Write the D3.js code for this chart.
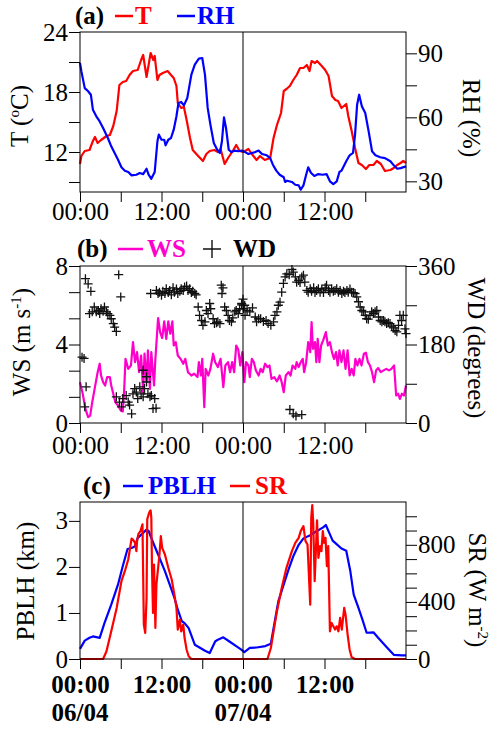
<!DOCTYPE html>
<html>
<head>
<meta charset="utf-8">
<script src="https://cdn.jsdelivr.net/npm/d3@7"></script>
<style>
  body { margin: 0; background: #fff; }
  svg text { font-family: "Liberation Serif", "Times New Roman", serif; }
</style>
</head>
<body>
<svg id="chart" width="500" height="730"></svg>
<script>
  'use strict';

  // time axis: hours since 00:00 06/04
  var hourTicks = [0, 6, 12, 18, 24, 30, 36, 42];
  var timeLabels = ['00:00', '12:00', '00:00', '12:00'];
  var dateLabels = ['06/04', '07/04'];

  // (a) temperature (oC) and relative humidity (%)
  var tempT = [[0,10.8],[0.2,11.6],[0.7,12.1],[1.4,12.2],[1.9,13.1],[2.2,13.5],[2.6,12.9],[3.1,13.2],[3.9,13.6],[4.4,13.7],[4.9,14.6],[5.4,16.1],[5.8,18.7],[6.3,19.0],[6.8,19.1],[7.3,19.7],[7.8,20.1],[8.5,20.2],[9.0,21.2],[9.3,21.7],[9.8,19.5],[10.1,20.7],[10.4,21.9],[10.8,21.2],[11.0,21.6],[11.4,19.2],[11.7,19.7],[12.2,19.9],[12.9,20.1],[13.4,19.7],[13.8,19.4],[14.2,18.6],[14.4,16.9],[14.9,16.4],[15.3,16.5],[15.7,15.2],[16.2,13.4],[16.6,12.2],[17.4,11.6],[18.1,11.1],[18.6,11.8],[19.1,12.1],[19.8,12.2],[20.3,12.0],[20.7,12.3],[21.3,10.8],[21.8,11.4],[22.5,12.1],[23.0,12.7],[23.5,12.1],[24.0,12.0],
    [24.3,12.1],[24.8,12.3],[25.3,11.8],[26.0,11.2],[26.5,11.6],[27.2,11.2],[28.0,11.4],[28.5,13.4],[29.0,14.7],[29.6,15.9],[30.0,18.1],[30.4,18.3],[30.9,18.6],[31.4,19.2],[31.9,19.7],[32.4,20.4],[32.9,20.4],[33.4,20.7],[33.8,20.1],[34.1,21.1],[34.6,20.9],[34.9,21.1],[35.6,20.6],[36.1,20.2],[36.6,19.6],[37.1,17.6],[37.6,17.2],[38.0,17.1],[38.5,16.4],[39.2,16.8],[39.5,15.6],[40.0,14.1],[40.5,12.4],[41.0,10.9],[41.5,10.7],[42.1,10.3],[42.6,10.7],[43.2,10.7],[43.7,11.1],[44.3,10.8],[44.9,10.1],[45.7,10.2],[46.2,10.4],[46.7,10.7],[47.2,10.9],[47.6,11.1],[48,10.9]];
  var relHum = [[0,85.5],[0.2,81.6],[0.7,73.7],[1.2,72.2],[1.6,70.6],[1.9,63.6],[2.4,60.5],[2.9,58.1],[3.4,55.0],[4.1,50.3],[4.6,46.4],[5.1,43.3],[5.6,40.1],[6.1,36.6],[6.6,35.0],[7.1,34.4],[7.6,32.8],[8.3,33.1],[8.8,33.9],[9.3,33.4],[9.8,35.9],[10.1,33.1],[10.5,31.2],[11.0,34.4],[11.4,48.8],[11.6,51.9],[12.0,49.5],[12.4,49.5],[12.6,46.9],[13.0,49.5],[13.4,50.3],[13.8,54.2],[14.2,60.5],[14.5,66.7],[14.9,67.2],[15.3,65.6],[15.8,69.1],[16.4,80.0],[16.9,84.7],[17.5,87.5],[18.0,87.8],[18.4,80.0],[18.8,64.4],[19.2,56.6],[19.7,48.0],[20.2,44.8],[20.6,43.3],[20.9,48.8],[21.2,60.0],[21.5,55.0],[21.9,44.8],[22.3,43.7],[22.8,44.4],[23.3,44.1],[23.8,44.4],
    [24.3,43.7],[24.8,42.8],[25.3,43.3],[25.8,43.7],[26.3,44.4],[26.8,42.8],[27.5,42.2],[28.0,40.9],[28.4,37.8],[28.9,35.0],[29.4,33.1],[30.0,31.9],[30.2,29.7],[30.5,30.3],[31.2,29.7],[31.7,28.4],[32.2,28.1],[32.5,26.1],[32.9,28.1],[33.3,33.1],[33.6,36.6],[34.0,34.0],[34.5,32.5],[35.1,33.4],[35.7,33.1],[36.3,33.4],[36.8,30.0],[37.3,28.7],[37.8,30.0],[38.2,34.4],[38.5,35.0],[39.2,39.4],[39.7,42.2],[40.2,43.3],[40.5,51.9],[40.8,65.9],[41.1,70.6],[41.5,65.2],[42.0,62.0],[42.5,53.4],[43.0,44.1],[43.5,42.2],[44.2,41.3],[44.9,40.9],[45.7,39.4],[46.2,37.5],[46.7,35.9],[47.2,36.2],[48,37.0]];

  // (b) wind speed (m/s) and wind direction (degrees)
  var windSpeed = [[0,2.08],[0.4,1.49],[0.8,0.72],[1.2,0.30],[1.5,0.38],[1.8,1.06],[2.2,1.83],[2.6,2.59],[2.9,3.02],[3.1,2.42],[3.4,2.08],[3.7,1.91],[4.0,2.34],[4.4,2.34],[4.6,1.91],[4.9,1.49],[5.2,1.06],[5.6,0.89],[6.0,0.64],[6.3,0.59],[6.5,1.66],[6.7,3.27],[7.1,2.76],[7.5,2.93],[7.8,4.12],[8.1,3.10],[8.4,3.61],[8.7,2.59],[9.0,3.44],[9.3,1.57],[9.5,3.53],[9.8,2.08],[10.0,3.70],[10.3,1.74],[10.5,3.61],[10.9,1.91],[11.1,3.27],[11.5,5.35],[11.8,4.63],[12.1,4.33],[12.4,5.18],[12.7,4.29],[13.0,5.18],[13.3,4.55],[13.6,5.18],[13.8,3.95],[14.1,4.12],[14.4,3.44],[14.8,3.27],[15.2,3.02],[15.5,3.27],[15.9,2.59],[16.4,2.42],[16.8,2.51],[17.3,2.34],[17.5,3.10],[17.8,2.42],[18.0,3.27],[18.3,0.81],[18.5,2.76],[18.9,2.42],[19.2,2.76],[19.6,3.53],[19.9,3.10],[20.3,2.85],[20.7,3.27],[21.1,1.83],[21.4,2.93],[21.8,3.10],[22.1,2.59],[22.4,3.10],[22.7,2.59],[23.0,3.95],[23.3,3.75],[23.6,2.93],[23.9,3.61],[24.2,2.08],
    [24.45,3.10],[24.8,2.93],[25.0,2.34],[25.3,3.27],[25.6,3.10],[25.9,2.68],[26.3,2.42],[26.6,2.76],[26.9,2.59],[27.25,3.02],[27.6,2.85],[27.9,2.93],[28.2,2.25],[28.6,2.34],[29.0,2.12],[29.4,2.42],[29.7,2.08],[30.0,1.57],[30.3,2.42],[30.7,2.59],[31.0,2.42],[31.3,2.93],[31.7,2.76],[31.9,3.10],[32.2,2.85],[32.5,3.10],[32.8,3.27],[33.0,2.59],[33.3,3.10],[33.6,4.12],[33.9,3.61],[34.1,5.14],[34.3,3.78],[34.6,4.12],[34.8,3.10],[35.0,4.29],[35.25,3.10],[35.5,3.95],[35.8,4.21],[36.2,4.63],[36.5,3.95],[36.8,4.12],[37.1,3.61],[37.4,3.27],[37.7,3.61],[37.95,2.93],[38.2,3.70],[38.5,3.10],[38.8,3.70],[39.1,2.76],[39.4,3.70],[39.7,2.42],[40.0,2.76],[40.3,2.42],[40.55,3.27],[40.85,2.93],[41.15,3.27],[41.45,2.93],[41.8,3.53],[42.1,3.58],[42.4,3.10],[42.7,2.93],[43.0,2.59],[43.3,2.08],[43.6,2.68],[43.9,2.80],[44.3,2.59],[44.7,2.68],[45.1,2.76],[45.5,2.68],[45.85,2.76],[46.25,2.93],[46.55,1.40],[46.85,1.49],[47.1,1.23],[47.4,1.49],[47.7,1.40],[48,1.91]];
  var windDir = [[0.3,151],[0.6,148],[0.7,37],[0.8,331],[0.9,83],[1.2,319],[1.4,251],[1.6,302],[1.8,255],[2.1,266],[2.4,255],[2.7,258],[2.9,251],[3.1,262],[3.4,256],[3.6,266],[3.9,255],[4.1,251],[4.4,247],[4.6,239],[4.9,228],[5.1,220],[5.35,210],[5.35,60],[5.7,340],[5.8,48],[6.0,289],[6.1,37],[6.3,56],[6.8,63],[7.1,48],[7.3,41],[7.6,21],[7.8,67],[8.05,79],[8.3,71],[8.5,56],[8.8,83],[9.0,67],[9.3,60],[9.3,121],[9.5,79],[9.8,94],[9.8,106],[10.0,67],[10.3,60],[10.4,297],[10.5,63],[10.75,33],[11.0,56],[11.2,34],[11.25,304],[11.5,297],[11.7,300],[12.0,293],[12.2,302],[12.5,297],[12.7,308],[13.0,299],[13.2,304],[13.45,294],[13.7,310],[13.9,300],[14.2,307],[14.4,297],[14.7,302],[14.9,308],[15.2,304],[15.4,312],[15.7,314],[15.9,304],[16.15,308],[16.4,299],[16.6,302],[16.9,297],[17.1,294],[17.4,266],[17.6,247],[17.9,235],[18.1,224],[18.4,232],[18.6,258],[18.85,251],[19.1,274],[19.25,262],[19.6,239],[19.8,228],[20.1,230],[20.3,232],[20.6,228],[20.8,316],[20.9,297],[21.05,310],[21.3,266],[21.55,258],[21.8,247],[22.0,235],[22.3,232],[22.5,241],[22.8,255],[23.0,258],[23.3,251],[23.5,262],[23.8,271],[23.8,274],[24.0,284],[24.1,262],[24.25,270],
    [24.3,247],[24.6,258],[25.0,255],[25.4,264],[25.8,243],[26.0,232],[26.3,239],[26.6,239],[27.0,233],[27.4,235],[27.7,228],[28.1,224],[28.5,232],[28.7,247],[29.0,255],[29.2,270],[29.45,277],[29.7,300],[29.95,320],[30.2,335],[30.45,342],[30.8,340],[30.9,31],[31.2,352],[31.4,346],[31.4,21],[31.7,335],[31.8,16],[31.9,323],[32.2,327],[32.4,322],[32.65,335],[32.65,19],[32.9,339],[33.1,323],[33.4,304],[33.6,300],[33.9,308],[34.1,302],[34.4,310],[34.6,299],[34.85,304],[35.1,308],[35.35,300],[35.6,307],[35.85,299],[36.1,310],[36.3,316],[36.6,304],[36.8,300],[37.05,308],[37.3,302],[37.55,304],[37.8,308],[38.05,300],[38.3,304],[38.55,297],[38.8,302],[39.0,299],[39.3,304],[39.5,300],[39.75,307],[40.0,300],[40.25,299],[40.5,297],[40.75,289],[41.0,278],[41.25,266],[41.5,258],[41.75,255],[42.0,247],[42.2,239],[42.45,238],[42.7,247],[42.95,255],[43.2,251],[43.45,255],[43.7,258],[43.95,243],[44.2,235],[44.45,232],[44.7,235],[44.9,232],[45.15,228],[45.4,230],[45.65,228],[45.9,222],[46.15,218],[46.4,212],[46.65,209],[46.9,224],[47.1,247],[47.35,235],[47.6,247],[47.85,216],[48.0,205]];

  // (c) boundary layer height (km) and solar radiation (W/m2)
  var pblh = [[0,0.22],[0.7,0.40],[1.4,0.46],[1.9,0.49],[2.9,0.46],[3.6,0.78],[4.6,1.18],[5.6,1.62],[6.3,2.02],[7.0,2.39],[7.6,2.41],[8.1,2.45],[8.5,2.63],[9.3,2.74],[9.8,2.81],[10.1,2.78],[10.6,2.59],[11.1,2.41],[11.7,2.20],[12.5,1.91],[13.2,1.62],[13.9,1.33],[14.4,1.07],[15.0,0.82],[15.4,0.78],[16.0,0.67],[16.9,0.31],[17.6,0.25],[18.4,0.18],[19.1,0.13],[19.9,0.38],[20.3,0.42],[21.1,0.47],[22.0,0.38],[23.0,0.28],[23.8,0.20],[24.2,0.15],[25.0,0.24],[26.0,0.25],[27.3,0.28],[28.1,0.33],[28.6,0.75],[29.2,1.25],[30.0,1.62],[30.7,1.94],[31.4,2.23],[32.2,2.48],[32.9,2.62],[33.9,2.69],[34.9,2.78],[35.8,2.86],[36.2,2.91],[36.7,2.74],[37.2,2.57],[37.9,2.48],[38.5,2.40],[39.2,2.35],[39.8,1.91],[40.3,1.40],[41.0,1.11],[41.6,0.85],[42.2,0.57],[43.2,0.58],[43.9,0.46],[45.2,0.25],[46.2,0.09],[47.4,0.08],[48,0.08]];
  var solarRad = [[0,0],[3.4,0],[3.9,54],[4.6,194],[5.4,358],[6.1,545],[6.6,615],[7.1,697],[7.3,756],[7.6,844],[7.8,837],[8.1,814],[8.3,756],[8.4,826],[8.6,877],[8.9,896],[9.2,943],[9.4,241],[9.6,183],[9.8,428],[9.9,978],[10.1,1013],[10.3,1037],[10.4,1041],[10.5,990],[10.6,639],[10.75,323],[10.9,662],[11.1,218],[11.25,521],[11.5,639],[11.7,732],[11.9,861],[12.1,779],[12.5,732],[13.0,639],[13.5,557],[13.9,451],[14.2,358],[14.4,206],[14.7,276],[14.9,194],[15.2,241],[15.4,147],[15.7,65],[16.0,19],[16.4,0],
    [27.6,0],[28.1,77],[28.5,194],[29.0,335],[29.7,498],[30.4,639],[31.2,756],[31.7,814],[32.2,849],[32.5,896],[32.9,931],[33.2,826],[33.5,802],[33.9,381],[34.05,990],[34.2,1079],[34.35,943],[34.55,545],[34.75,779],[34.9,971],[35.1,709],[35.35,791],[35.55,756],[35.75,896],[35.95,814],[36.15,849],[36.35,651],[36.55,791],[36.8,194],[37.05,253],[37.3,229],[37.55,206],[37.8,229],[38.05,194],[38.3,288],[38.55,206],[38.9,358],[39.1,311],[39.4,173],[39.7,65],[40.0,12],[40.5,0],[48,0]];

  var svg = d3.select('#chart');
  var left = 80, right = 406;
  var fontSize = 25;

  var x = d3.scaleLinear().domain([0, 48]).range([left, right]);

  function timeFormat(h) {
    return h % 12 === 0 ? timeLabels[h / 12] : '';
  }

  function styleAxis(g, bold) {
    g.select('.domain').remove();
    g.selectAll('line').attr('stroke', '#000');
    g.selectAll('text')
      .attr('font-size', fontSize)
      .attr('font-family', '"Liberation Serif", "Times New Roman", serif')
      .attr('font-weight', bold ? 'bold' : 'normal')
      .attr('fill', '#000');
  }

  function drawPanel(p) {
    var yL = d3.scaleLinear().domain(p.yLeft).range([p.bottom, p.top]);
    var yR = d3.scaleLinear().domain(p.yRight).range([p.bottom, p.top]);
    var g = svg.append('g');

    // series
    p.series.forEach(function(s) {
      var sc = s.axis === 'right' ? yR : yL;
      if (s.type === 'cross') {
        g.append('g').selectAll('path')
          .data(s.data)
          .enter().append('path')
          .attr('transform', function(d) {
            return 'translate(' + x(d[0]) + ',' + sc(d[1]) + ')';
          })
          .attr('d', 'M-4.5,0H4.5M0,-4.5V4.5')
          .attr('stroke', s.color)
          .attr('stroke-width', 1.3)
          .attr('fill', 'none');
      } else {
        var line = d3.line()
          .x(function(d) { return x(d[0]); })
          .y(function(d) { return sc(d[1]); });
        g.append('path')
          .datum(s.data)
          .attr('d', line)
          .attr('fill', 'none')
          .attr('stroke', s.color)
          .attr('stroke-width', 2.2)
          .attr('stroke-linejoin', 'round');
      }
    });

    // day separator
    g.append('line')
      .attr('x1', x(24)).attr('x2', x(24))
      .attr('y1', p.top).attr('y2', p.bottom)
      .attr('stroke', '#000').attr('stroke-width', 1);

    // frame
    g.append('rect')
      .attr('x', left).attr('y', p.top)
      .attr('width', right - left).attr('height', p.bottom - p.top)
      .attr('fill', 'none').attr('stroke', '#000').attr('stroke-width', 1);

    // axes
    var axL = d3.axisLeft(yL).tickValues(p.leftTicks).tickSize(11).tickSizeOuter(0)
      .tickPadding(1)
      .tickFormat(function(v) { return p.leftLabels.indexOf(v) >= 0 ? v : ''; });
    g.append('g').attr('transform', 'translate(' + left + ',0)').call(axL)
      .call(styleAxis, false);

    var axR = d3.axisRight(yR).tickValues(p.rightTicks).tickSize(11).tickSizeOuter(0)
      .tickPadding(1)
      .tickFormat(function(v) { return p.rightLabels.indexOf(v) >= 0 ? v : ''; });
    g.append('g').attr('transform', 'translate(' + right + ',0)').call(axR)
      .call(styleAxis, false);

    var axB = d3.axisBottom(x).tickValues(hourTicks).tickSize(10).tickSizeOuter(0)
      .tickPadding(p.xPad).tickFormat(timeFormat);
    g.append('g').attr('transform', 'translate(0,' + p.bottom + ')').call(axB)
      .call(styleAxis, p.boldTime);

    // axis titles
    var lt = g.append('text')
      .attr('transform', 'translate(' + p.leftTitle[0] + ',' + p.leftTitle[1] + ') rotate(-90)')
      .attr('text-anchor', 'middle').attr('font-size', fontSize);
    addRich(lt, p.leftTitleParts);
    var rt = g.append('text')
      .attr('transform', 'translate(' + p.rightTitle[0] + ',' + p.rightTitle[1] + ') rotate(90)')
      .attr('text-anchor', 'middle').attr('font-size', fontSize);
    addRich(rt, p.rightTitleParts);

    // panel heading with legend
    p.heading.forEach(function(h) {
      if (h.dash) {
        g.append('line')
          .attr('x1', h.x).attr('x2', h.x + h.dash)
          .attr('y1', p.headY - 8).attr('y2', p.headY - 8)
          .attr('stroke', h.color).attr('stroke-width', 2.5);
      } else if (h.cross) {
        g.append('path')
          .attr('transform', 'translate(' + h.x + ',' + (p.headY - 8) + ')')
          .attr('d', 'M-9,0H9M0,-9V9')
          .attr('stroke', h.color).attr('stroke-width', 1.4);
      } else {
        g.append('text')
          .attr('x', h.x).attr('y', p.headY)
          .attr('font-size', fontSize).attr('font-weight', 'bold')
          .attr('fill', h.color)
          .text(h.text);
      }
    });
  }

  // text with optional superscripts: parts = [[text, isSuper], ...]
  function addRich(t, parts) {
    var raised = false;
    parts.forEach(function(pt) {
      var ts = t.append('tspan').text(pt[0]);
      if (pt[1] && !raised) {
        ts.attr('dy', -9).attr('font-size', 15);
        raised = true;
      } else if (!pt[1] && raised) {
        ts.attr('dy', 9);
        raised = false;
      }
      if (pt[1]) ts.attr('font-size', 15);
    });
  }

  drawPanel({
    top: 32, bottom: 192,
    yLeft: [8, 24], yRight: [25, 100],
    leftTicks: [9, 12, 15, 18, 21, 24], leftLabels: [12, 18, 24],
    rightTicks: [30, 45, 60, 75, 90], rightLabels: [30, 60, 90],
    xPad: 0, boldTime: false,
    series: [
      {data: tempT, color: '#ff0000', axis: 'left'},
      {data: relHum, color: '#0000ff', axis: 'right'}
    ],
    leftTitle: [28, 116], leftTitleParts: [['T ('], ['o', true], ['C)']],
    rightTitle: [463, 118], rightTitleParts: [['RH (%)']],
    headY: 24,
    heading: [
      {x: 75, text: '(a)', color: '#000'},
      {x: 115, dash: 18, color: '#ff0000'},
      {x: 135, text: 'T', color: '#ff0000'},
      {x: 177, dash: 18, color: '#0000ff'},
      {x: 197, text: 'RH', color: '#0000ff'}
    ]
  });

  drawPanel({
    top: 266, bottom: 423,
    yLeft: [0, 8], yRight: [0, 360],
    leftTicks: [0, 4 / 3, 8 / 3, 4, 16 / 3, 20 / 3, 8], leftLabels: [0, 4, 8],
    rightTicks: [0, 90, 180, 270, 360], rightLabels: [0, 180, 360],
    xPad: 3, boldTime: false,
    series: [
      {data: windSpeed, color: '#ff00cc', axis: 'left'},
      {data: windDir, color: '#111', axis: 'right', type: 'cross'}
    ],
    leftTitle: [30, 342], leftTitleParts: [['WS (m s'], ['-1', true], [')']],
    rightTitle: [468, 348], rightTitleParts: [['WD (degrees)']],
    headY: 257,
    heading: [
      {x: 77, text: '(b)', color: '#000'},
      {x: 118, dash: 25, color: '#ff00cc'},
      {x: 147, text: 'WS', color: '#ff00cc'},
      {x: 212, cross: true, color: '#111'},
      {x: 233, text: 'WD', color: '#000'}
    ]
  });

  drawPanel({
    top: 502, bottom: 659,
    yLeft: [0, 3.41], yRight: [0, 1100],
    leftTicks: [0, 1, 2, 3], leftLabels: [0, 1, 2, 3],
    rightTicks: d3.range(0, 1001, 100), rightLabels: [0, 400, 800],
    xPad: 6, boldTime: true,
    series: [
      {data: pblh, color: '#0000ff', axis: 'left'},
      {data: solarRad, color: '#ff0000', axis: 'right'}
    ],
    leftTitle: [34, 581], leftTitleParts: [['PBLH (km)']],
    rightTitle: [469, 590], rightTitleParts: [['SR (W m'], ['-2', true], [')']],
    headY: 494,
    heading: [
      {x: 83, text: '(c)', color: '#000'},
      {x: 123, dash: 20, color: '#0000ff'},
      {x: 148, text: 'PBLH', color: '#0000ff'},
      {x: 230, dash: 20, color: '#ff0000'},
      {x: 255, text: 'SR', color: '#ff0000'}
    ]
  });

  // dates under the bottom time axis
  svg.append('g').selectAll('text')
    .data(dateLabels)
    .enter().append('text')
    .attr('x', function(d, i) { return x(i * 24); })
    .attr('y', 721)
    .attr('text-anchor', 'middle')
    .attr('font-size', fontSize)
    .attr('font-weight', 'bold')
    .text(function(d) { return d; });
</script>
</body>
</html>
